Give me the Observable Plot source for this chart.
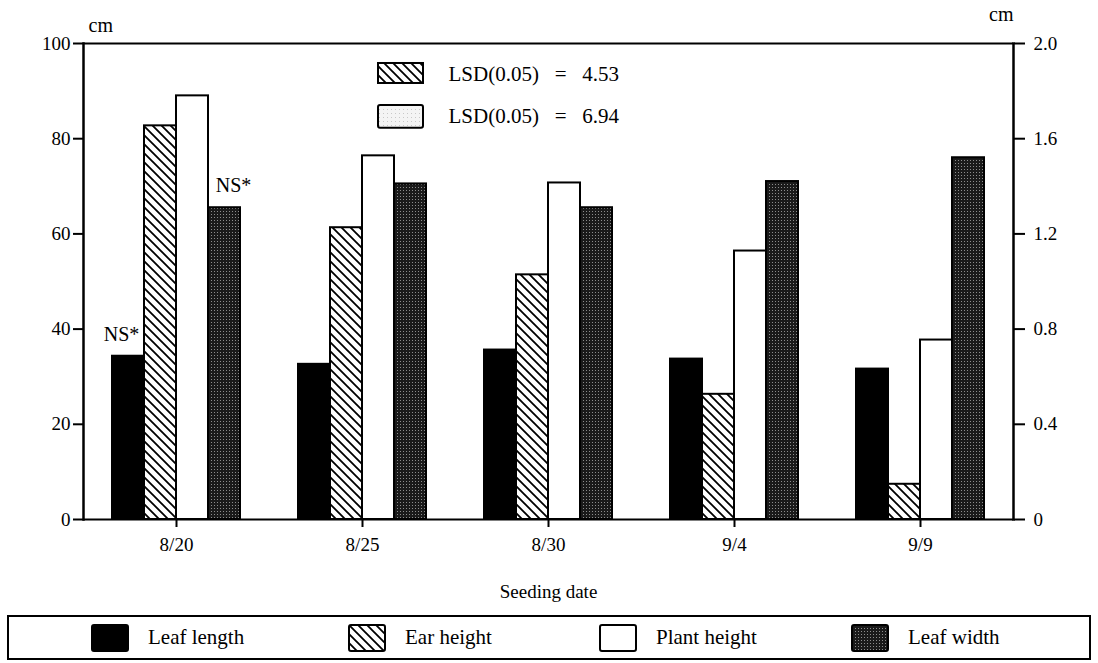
<!DOCTYPE html>
<html>
<head>
<meta charset="utf-8">
<script src="https://cdn.jsdelivr.net/npm/d3@7"></script>
<script src="https://cdn.jsdelivr.net/npm/@observablehq/plot@0.6"></script>
<style>
  html, body { margin: 0; padding: 0; background: #fff; }
  body { width: 1098px; height: 663px; overflow: hidden; font-family: "Liberation Serif", "Times New Roman", serif; color: #000; }
  #chart svg, #chart svg text { font-family: "Liberation Serif", "Times New Roman", serif !important; }
  #legend { position: relative; margin-left: 7px; margin-top: 15px; width: 1080px; height: 41px; border: 2px solid #000; }
  .item { position: absolute; top: 0; height: 41px; display: flex; align-items: center; font-size: 21px; font-family: "Liberation Serif", "Times New Roman", serif; }
  .item svg { margin-right: 19px; }
</style>
</head>
<body>
<div id="chart"></div>
<div id="legend"></div>
<script>
// ---- data ----
const dates = ["8/20", "8/25", "8/30", "9/4", "9/9"];
const seriesNames = ["Leaf length", "Ear height", "Plant height", "Leaf width"];
const leafLength = [34.3, 32.6, 35.6, 33.7, 31.6];   // cm, left axis
const earHeight = [82.7, 61.3, 51.4, 26.3, 7.4];     // cm, left axis
const plantHeight = [89.0, 76.4, 70.7, 56.4, 37.7];  // cm, left axis
const leafWidth = [1.31, 1.41, 1.31, 1.42, 1.52];    // cm, right axis
const leftTicks = [0, 20, 40, 60, 80, 100];
const rightTickLabels = ["0", "0.4", "0.8", "1.2", "1.6", "2.0"];
const lsdValues = [4.53, 6.94];
const rightPerLeft = 2.0 / 100; // right axis 0–2.0 spans left axis 0–100

const fills = ["#000", "url(#hatch)", "#fff", "url(#dots)"];

const seriesValues = [leafLength, earHeight, plantHeight, leafWidth.map(v => v / rightPerLeft)];
const rows = dates.flatMap((d, i) => seriesNames.map((s, j) => ({date: d, series: s, value: seriesValues[j][i]})));
const nsLeft = [{date: "8/20", series: "Leaf length", value: leafLength[0], label: "NS*"}];
const nsRight = [{date: "8/20", series: "Leaf width", value: leafWidth[0] / rightPerLeft, label: "NS*"}];
const sp = "\u00a0\u00a0\u00a0";
const lsdLabel = v => "LSD(0.05)" + sp + "=" + sp + v.toFixed(2);

const chart = Plot.plot({
  width: 1098,
  height: 600,
  marginLeft: 83,
  marginRight: 85,
  marginTop: 43,
  marginBottom: 81,
  style: {fontFamily: "'Liberation Serif', 'Times New Roman', serif", fontSize: "19px", color: "#000", background: "#fff", overflow: "visible"},
  fx: {domain: dates, padding: 0},
  x: {domain: seriesNames, paddingInner: 0, paddingOuter: 0.82, axis: null},
  y: {domain: [0, 100]},
  color: {domain: seriesNames, range: fills},
  marks: [
    Plot.barY(rows, {fx: "date", x: "series", y: "value", fill: "series", stroke: "#000", strokeWidth: 2}),
    Plot.ruleY([0, 100], {stroke: "#000", strokeWidth: 2}),
    Plot.frame({anchor: "left", facetAnchor: "left", stroke: "#000", strokeWidth: 2.5}),
    Plot.frame({anchor: "right", facetAnchor: "right", stroke: "#000", strokeWidth: 2.5}),
    Plot.axisY({anchor: "left", ticks: leftTicks, tickSize: 10, tickPadding: 3, strokeWidth: 2, label: null, fontSize: 19}),
    Plot.axisY({anchor: "right", ticks: leftTicks, tickFormat: (d, i) => rightTickLabels[i], tickSize: 11, tickPadding: 9, strokeWidth: 2, label: null, fontSize: 19}),
    Plot.axisFx({anchor: "bottom", tickSize: 8, tickPadding: 10, strokeWidth: 2, fontSize: 19, label: "Seeding date", labelAnchor: "center", labelArrow: "none", labelOffset: 78}),
    Plot.text(nsLeft, {fx: "date", x: "series", y: "value", text: "label", dx: -7, dy: -22, fontSize: 20}),
    Plot.text(nsRight, {fx: "date", x: "series", y: "value", text: "label", dx: 9, dy: -22, fontSize: 20}),
    // "cm" unit labels
    Plot.text(["cm"], {fx: () => dates[0], frameAnchor: "top-left", text: d => d, dx: 5, dy: -18, lineAnchor: "middle", textAnchor: "start", fontSize: 20}),
    Plot.text(["cm"], {fx: () => dates[dates.length - 1], frameAnchor: "top-right", text: d => d, dx: 0, dy: -29, lineAnchor: "middle", textAnchor: "end", fontSize: 20}),
    // LSD annotation
    Plot.barY([lsdValues[0]], {fx: () => "8/25", y1: 91.6, y2: 95.8, insetLeft: 109, insetRight: 32, fill: "url(#hatch)", stroke: "#000", strokeWidth: 2}),
    Plot.barY([lsdValues[1]], {fx: () => "8/25", y1: 82.2, y2: 87.0, insetLeft: 109, insetRight: 32, fill: "url(#lightdots)", stroke: "#000", strokeWidth: 2, rx: 2}),
    Plot.text([lsdValues[0]], {fx: () => "8/25", y: () => 93.6, text: d => lsdLabel(d), frameAnchor: "left", dx: 179, textAnchor: "start", fontSize: 21}),
    Plot.text([lsdValues[1]], {fx: () => "8/25", y: () => 84.7, text: d => lsdLabel(d), frameAnchor: "left", dx: 179, textAnchor: "start", fontSize: 21})
  ]
});

// pattern definitions for the hatched / dotted fills
function addDefs(svg) {
  const defs = d3.select(svg).insert("defs", ":first-child");
  const h = defs.append("pattern").attr("id", "hatch").attr("patternUnits", "userSpaceOnUse").attr("width", 9).attr("height", 9);
  h.append("rect").attr("width", 9).attr("height", 9).attr("fill", "#fff");
  h.append("path").attr("d", "M-1,-1L10,10M-1,8L1,10M8,-1L10,1").attr("stroke", "#000").attr("stroke-width", 1.8);
  const p = defs.append("pattern").attr("id", "dots").attr("patternUnits", "userSpaceOnUse").attr("width", 3).attr("height", 3);
  p.append("rect").attr("width", 3).attr("height", 3).attr("fill", "#1a1a1a");
  p.append("rect").attr("x", 1).attr("y", 1).attr("width", 1).attr("height", 1).attr("fill", "#8c8c8c");
  const l = defs.append("pattern").attr("id", "lightdots").attr("patternUnits", "userSpaceOnUse").attr("width", 4).attr("height", 4);
  l.append("rect").attr("width", 4).attr("height", 4).attr("fill", "#f4f4f4");
  l.append("rect").attr("x", 1).attr("y", 1).attr("width", 1).attr("height", 1).attr("fill", "#c8c8c8");
}
addDefs(chart);
document.getElementById("chart").appendChild(chart);

// bottom legend
const legendX = [91, 348, 599, 851];
const legend = document.getElementById("legend");
seriesNames.forEach((name, i) => {
  const item = document.createElement("div");
  item.className = "item";
  item.style.left = (legendX[i] - 9) + "px";
  item.innerHTML = `<svg width="38" height="28"><rect x="1" y="1" width="36" height="26" rx="2" fill="${fills[i]}" stroke="#000" stroke-width="2"/></svg><span>${name}</span>`;
  legend.appendChild(item);
});
</script>
</body>
</html>
